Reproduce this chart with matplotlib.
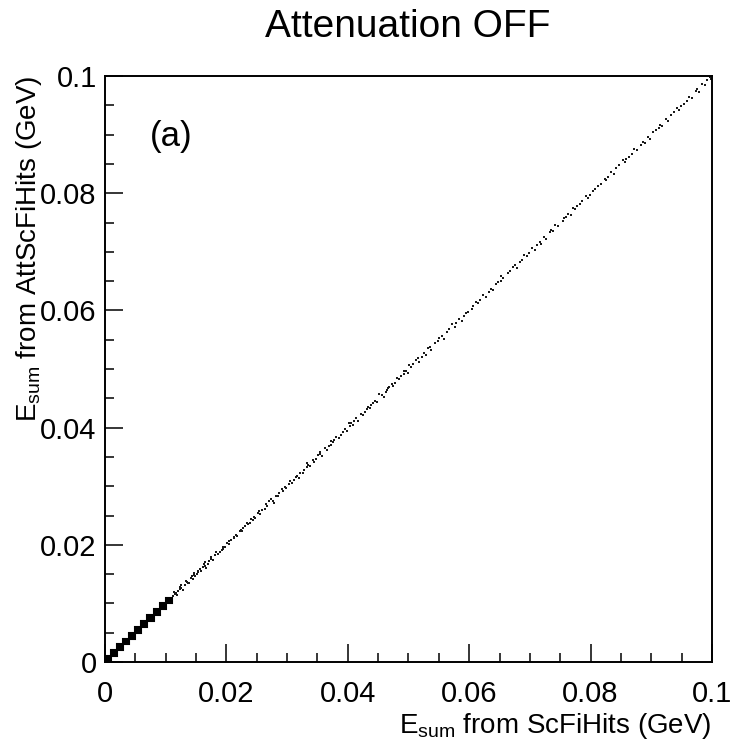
import matplotlib
matplotlib.use("Agg")
import matplotlib.pyplot as plt
import numpy as np

# --- Data (energies in MeV) ---
# fully filled 1 MeV bins on the diagonal near the origin (lower edges)
dense_bins = [0, 1, 2, 3, 4, 5, 6, 7, 8, 9, 10]

# (E from ScFiHits, E from AttScFiHits) for the sparse dots
hits_11_17 = [(11.2, 11.3), (11.5, 11.6), (11.8, 11.4), (11.4, 11.9), (11.7, 11.8),
              (12.1, 12.2), (12.4, 12.5), (12.8, 12.3), (12.3, 12.8), (12.6, 12.6), (12.5, 13.2),
              (13.2, 13.1), (13.5, 13.6), (13.9, 13.4), (13.3, 13.8), (13.7, 13.5),
              (14.1, 14.3), (14.5, 14.2), (14.8, 14.7), (14.3, 14.6), (14.6, 14.9), (14.6, 15.2),
              (15.2, 15.1), (15.4, 15.5), (15.8, 15.6), (15.6, 15.9), (15.3, 15.3),
              (16.1, 16.2), (16.5, 16.4), (16.9, 16.8), (16.3, 16.7), (16.7, 16.1), (16.4, 17.1)]
hits_17_25 = [(17.2, 17.3), (17.5, 17.6), (17.8, 17.4), (17.4, 17.9),
              (18.1, 18.2), (18.6, 18.4), (18.3, 18.7), (18.9, 18.8),
              (19.2, 19.1), (19.5, 19.6), (19.8, 19.7), (19.4, 19.3),
              (20.1, 20.3), (20.4, 20.2), (20.7, 20.8), (20.5, 20.6),
              (21.3, 21.1), (21.6, 21.7), (21.8, 21.5), (21.2, 21.4),
              (22.2, 22.3), (22.5, 22.4), (22.8, 22.9), (22.4, 22.6),
              (23.1, 23.2), (23.6, 23.5), (23.4, 23.8), (23.9, 23.7),
              (24.3, 24.2), (24.7, 24.6), (24.5, 24.8), (24.1, 24.4)]
hits_25_39 = [(25.2, 25.4), (25.6, 25.3), (25.8, 25.9), (25.4, 25.7),
              (26.3, 26.1), (26.7, 26.6), (26.5, 26.9),
              (27.1, 27.4), (27.6, 27.5), (27.8, 27.2), (27.4, 27.8),
              (28.2, 28.3), (28.7, 28.8), (28.5, 28.4),
              (29.1, 29.6), (29.4, 29.2), (29.8, 29.7), (29.6, 29.9),
              (30.3, 30.4), (30.8, 30.5), (30.5, 30.9),
              (31.2, 31.1), (31.6, 31.7), (31.9, 31.4), (31.4, 31.5),
              (32.1, 32.3), (32.6, 32.2), (32.8, 32.8),
              (33.3, 33.2), (33.5, 33.7), (33.8, 33.4), (33.2, 33.9),
              (34.4, 34.1), (34.7, 34.6), (34.2, 34.5),
              (35.1, 35.3), (35.5, 35.8), (35.8, 35.2), (35.4, 35.5),
              (36.3, 36.6), (36.6, 36.2), (36.9, 36.8),
              (37.2, 37.1), (37.5, 37.5), (37.8, 37.9), (37.3, 37.7),
              (38.1, 38.4), (38.6, 38.2), (38.8, 38.7)]
hits_39_53 = [(39.2, 39.3), (39.5, 39.8), (39.8, 39.5),
              (40.3, 40.2), (40.6, 40.7), (40.2, 40.8), (40.9, 40.4),
              (41.4, 41.6), (41.7, 41.2), (41.1, 41.1),
              (42.2, 42.4), (42.8, 42.7), (42.5, 42.1),
              (43.3, 43.5), (43.6, 43.3), (43.9, 43.8), (43.2, 43.1),
              (44.4, 44.6), (44.8, 44.3), (44.1, 44.2),
              (45.2, 45.7), (45.6, 45.5), (45.9, 45.2),
              (46.3, 46.1), (46.6, 46.7), (46.5, 46.4), (46.8, 46.9),
              (47.2, 47.4), (47.7, 47.6), (47.4, 47.1),
              (48.1, 48.5), (48.5, 48.3), (48.8, 48.8),
              (49.3, 49.2), (49.6, 49.7), (49.2, 49.6), (49.9, 49.4),
              (50.4, 50.3), (50.7, 50.8), (50.1, 50.6),
              (51.3, 51.5), (51.8, 51.2), (51.5, 51.8),
              (52.2, 52.1), (52.6, 52.7), (52.9, 52.4)]
hits_53_81 = [(53.2, 53.5), (53.7, 53.2), (53.5, 53.8), (54.3, 54.4), (54.8, 54.7),
              (55.1, 55.3), (55.6, 55.7), (55.8, 55.2), (56.4, 56.3), (56.7, 56.8),
              (57.2, 57.6), (57.6, 57.2), (57.9, 57.8), (58.3, 58.5), (58.8, 58.2),
              (59.2, 59.1), (59.5, 59.6), (59.8, 59.8), (60.4, 60.2), (60.7, 60.7),
              (61.1, 61.4), (61.5, 61.2), (61.8, 61.7), (62.3, 62.6), (62.7, 62.3),
              (63.2, 63.2), (63.6, 63.7), (63.9, 63.4), (64.4, 64.5), (64.8, 64.8),
              (65.3, 65.1), (65.6, 65.6), (65.2, 65.8), (66.4, 66.3), (66.8, 66.7),
              (67.2, 67.4), (67.6, 67.8), (67.8, 67.2), (68.3, 68.2), (68.7, 68.6),
              (69.1, 69.5), (69.5, 69.2), (69.8, 69.8), (70.3, 70.6), (70.8, 70.3),
              (71.2, 71.1), (71.6, 71.7), (71.9, 71.4), (72.4, 72.5), (72.7, 72.2),
              (73.3, 73.3), (73.5, 73.8), (73.8, 73.6), (74.2, 74.6), (74.7, 74.4),
              (75.4, 75.2), (75.6, 75.7), (75.9, 75.9), (76.3, 76.4), (76.7, 76.2),
              (77.1, 77.5), (77.5, 77.3), (77.8, 77.8), (78.3, 78.2), (78.6, 78.7),
              (79.2, 79.6), (79.6, 79.2), (79.9, 79.7), (80.4, 80.4), (80.8, 80.8)]
hits_81_100 = [(81.2, 81.3), (81.7, 81.6), (82.3, 82.5), (82.6, 82.2), (82.9, 82.8),
               (83.4, 83.6), (83.8, 83.2), (84.2, 84.3), (84.7, 84.8),
               (85.3, 85.7), (85.6, 85.3), (85.9, 85.9), (86.4, 86.2), (86.8, 86.7),
               (87.2, 87.5), (87.7, 87.4), (88.3, 88.2), (88.6, 88.7), (88.9, 88.5),
               (89.4, 89.6), (89.8, 89.3), (90.2, 90.4), (90.7, 90.8),
               (91.3, 91.2), (91.5, 91.7), (91.8, 91.4), (92.4, 92.6), (92.8, 92.3),
               (93.2, 93.3), (93.7, 93.8), (94.3, 94.6), (94.6, 94.2), (94.9, 94.8),
               (95.4, 95.3), (95.8, 95.7), (96.2, 96.5), (96.7, 96.2),
               (97.3, 97.4), (97.6, 97.8), (97.9, 97.3), (98.4, 98.6), (98.8, 98.4),
               (99.2, 99.3), (99.6, 99.8), (99.8, 99.5)]

x_ticks = [0, 0.02, 0.04, 0.06, 0.08, 0.1]
tick_labels = ["0", "0.02", "0.04", "0.06", "0.08", "0.1"]

plt.rcParams['font.family'] = ['Liberation Sans', 'DejaVu Sans']
plt.rcParams['mathtext.fontset'] = 'custom'
plt.rcParams['mathtext.rm'] = 'Liberation Sans'
plt.rcParams['mathtext.it'] = 'Liberation Sans:italic'

fig = plt.figure(figsize=(7.35, 7.47), dpi=100)
ax = fig.add_axes([105 / 735, 85 / 747, 607 / 735, 586 / 747])

# filled bins near the origin
bw = 0.001
dense = np.array(dense_bins) * bw
ax.bar(dense, bw, width=bw, bottom=dense, align='edge', color='black',
       edgecolor='black', linewidth=1.5)

# sparse dots
all_hits = np.array(hits_11_17 + hits_17_25 + hits_25_39 + hits_39_53 + hits_53_81 + hits_81_100) / 1000.0
ax.plot(all_hits[:, 0], all_hits[:, 1], ls='none', marker='s', ms=1.6, mew=0, color='#1a1a1a')

ax.set_xlim(0, 0.1)
ax.set_ylim(0, 0.1)
ax.set_xticks(x_ticks)
ax.set_xticklabels(tick_labels)
ax.set_yticks(x_ticks)
ax.set_yticklabels(tick_labels)
ax.set_xticks(np.arange(0, 0.1001, 0.005), minor=True)
ax.set_yticks(np.arange(0, 0.1001, 0.005), minor=True)
ax.tick_params(which='both', direction='in', top=False, right=False, width=1.1, labelsize=21)
ax.tick_params(axis='x', which='major', length=13, pad=13)
ax.tick_params(axis='y', which='major', length=13, pad=6)
ax.tick_params(which='minor', length=6.5)
for s in ax.spines.values():
    s.set_linewidth(1.4)

ax.text(0.074, 0.896, "(a)", transform=ax.transAxes, fontsize=25, ha='left', va='center')

fig.text(408 / 735, 1 - 27 / 747, "Attenuation OFF", fontsize=28, ha='center', va='center')
fig.text(712 / 735, 21 / 747, r"E$_{\mathrm{sum}}$ from ScFiHits (GeV)", fontsize=20,
         ha='right', va='center')
fig.text(29 / 735, 1 - 76 / 747, r"E$_{\mathrm{sum}}$ from AttScFiHits (GeV)", fontsize=20,
         ha='center', va='top', rotation=90)

fig.savefig("out.png", dpi=100)
